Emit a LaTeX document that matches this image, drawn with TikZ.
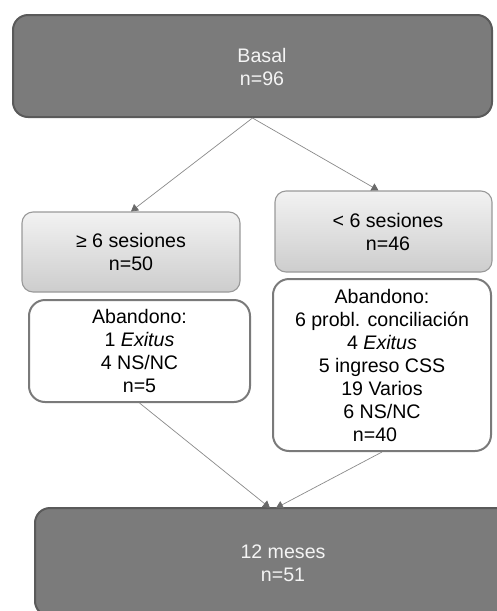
\documentclass[tikz,border=0pt]{standalone}
\usepackage{fontspec}
\setmainfont{Liberation Sans}
\usetikzlibrary{arrows.meta}
\definecolor{darkfill}{HTML}{7B7B7B}
\definecolor{darkline}{HTML}{5A5A5A}
\definecolor{lighttext}{HTML}{F4F4F4}
\definecolor{gradtop}{HTML}{F2F2F2}
\definecolor{gradbot}{HTML}{CDCDCD}
\definecolor{gradline}{HTML}{999999}
\definecolor{whiteline}{HTML}{7A7A7A}
\definecolor{connline}{HTML}{8A8A8A}
\definecolor{tipcol}{HTML}{6A6A6A}
\tikzset{
  txt/.style={font=\fontsize{19.6}{23}\selectfont, align=center, inner sep=0pt},
  darkbox/.style={draw=darkline, line width=2pt, fill=darkfill, rounded corners=15pt, inner sep=0pt},
  darktext/.style={txt, text=lighttext},
  gradbox/.style={txt, draw=gradline, line width=1.1pt, top color=gradtop, bottom color=gradbot, rounded corners=11pt},
  abbox/.style={txt, draw=whiteline, line width=2pt, fill=white, rounded corners=16pt},
  conn/.style={draw=connline, line width=0.7pt, -{Triangle[width=8pt,length=7pt,fill=tipcol,color=tipcol]}}
}
\begin{document}
\begin{tikzpicture}[x=1pt,y=-1pt]
\useasboundingbox (0,0) rectangle (497,611);
\clip (0,0) rectangle (497,611);
% top box
\node[darkbox, minimum width=479pt, minimum height=102pt] (basal) at (252.5,66) {};
\node[darktext] (basallbl) at (262,67) {Basal\\n=96};
% gradient boxes
\node[gradbox, minimum width=218pt, minimum height=80pt] (geq) at (131,252) {≥ 6 sesiones\\n=50};
\node[gradbox, minimum width=217pt, minimum height=81pt] (lt) at (383.5,231.5) {};
\node[txt] (ltlbl) at (388,232) {< 6 sesiones\\n=46};
% abandono boxes
\node[abbox, minimum width=221pt, minimum height=102pt] (abl) at (139.5,351) {Abandono:\\1 \textit{Exitus}\\4 NS/NC\\n=5};
\node[abbox, minimum width=218pt, minimum height=172pt] (abr) at (382,365) {Abandono:\\6 probl. conciliación\\4 \textit{Exitus}\\5 ingreso CSS\\19 Varios\\6 NS/NC\\\hspace*{-14pt}n=40};
% bottom box
\node[darkbox, minimum width=496pt, minimum height=108pt] (final) at (283,562) {};
\node[darktext] (finallbl) at (283,563) {12 meses\\n=51};
\coordinate (inl) at (270,508);
\coordinate (inr) at (276,508);
% connectors
\draw[conn] (basal.south) -- (geq.north);
\draw[conn] (basal.south) -- ([xshift=-5pt]lt.north);
\draw[conn] (abl.south) -- (inl);
\draw[conn] (abr.south) -- (inr);
\end{tikzpicture}
\end{document}
